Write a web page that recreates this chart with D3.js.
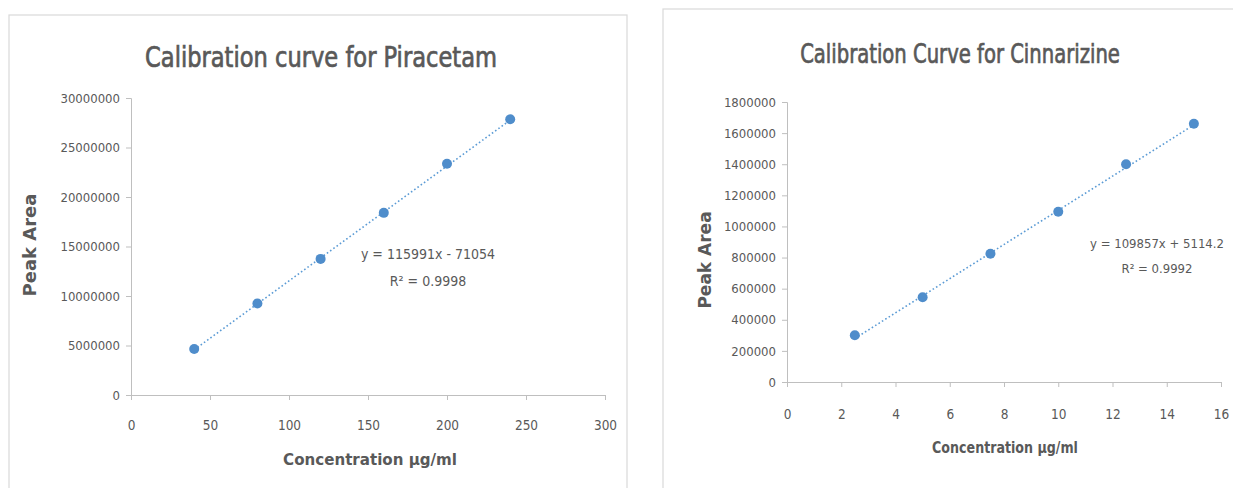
<!DOCTYPE html>
<html>
<head>
<meta charset="utf-8">
<script src="https://cdn.jsdelivr.net/npm/d3@7"></script>
<style>
  body { margin: 0; background: #fff; }
  svg text { font-family: "Liberation Sans Narrow", "DejaVu Sans Condensed", "Liberation Sans", sans-serif; fill: #595959; }
  .axisTitle { font-family: "DejaVu Sans", Verdana, sans-serif !important; font-weight: bold; }
</style>
</head>
<body>
<svg id="chart" width="1233" height="488"></svg>
<script>
// Piracetam
const piraConc = [40, 80, 120, 160, 200, 240];
const piraArea = [4650000, 9250000, 13750000, 18400000, 23350000, 27850000];
const piraXTicks = [0, 50, 100, 150, 200, 250, 300];
const piraYTicks = [0, 5000000, 10000000, 15000000, 20000000, 25000000, 30000000];
const piraFit = [115991, -71054];
const piraEq = ["y = 115991x - 71054", "R² = 0.9998"];

// Cinnarizine
const cinnConc = [2.5, 5, 7.5, 10, 12.5, 15];
const cinnArea = [300000, 545000, 825000, 1095000, 1400000, 1660000];
const cinnXTicks = [0, 2, 4, 6, 8, 10, 12, 14, 16];
const cinnYTicks = [0, 200000, 400000, 600000, 800000, 1000000, 1200000, 1400000, 1600000, 1800000];
const cinnFit = [109857, 5114.2];
const cinnEq = ["y = 109857x + 5114.2", "R² = 0.9992"];

const svg = d3.select("#chart");
const blue = "#5b9bd5";

// squeeze a centred text horizontally so it spans the given width
function fitText(sel, cx, cy, width) {
    let w = sel.node().getComputedTextLength();
    let sx = width / w;
    sel.attr("x", 0).attr("y", 0)
        .attr("transform", "translate(" + cx + "," + cy + ") scale(" + sx + ",1)");
}

function drawChart(cfg) {
    let g = svg.append("g");

    // chart frame
    g.append("rect")
        .attr("x", cfg.frame[0]).attr("y", cfg.frame[1])
        .attr("width", cfg.frame[2]).attr("height", cfg.frame[3])
        .attr("fill", "#fff").attr("stroke", "#d9d9d9").attr("stroke-width", 1.2);

    let x = d3.scaleLinear().domain(d3.extent(cfg.xTicks)).range(cfg.xRange);
    let y = d3.scaleLinear().domain(d3.extent(cfg.yTicks)).range(cfg.yRange);

    // y axis
    let ya = g.append("g")
        .attr("transform", "translate(" + cfg.xRange[0] + ",0)")
        .call(d3.axisLeft(y).tickValues(cfg.yTicks).tickSize(5).tickPadding(cfg.yPad).tickFormat(d3.format("d")));
    ya.selectAll("line").attr("stroke", "#bfbfbf");
    ya.select(".domain").attr("stroke", "#bfbfbf");
    ya.selectAll("text").attr("font-size", cfg.tickSize).attr("fill", "#595959");

    // x axis
    let xa = g.append("g")
        .attr("transform", "translate(0," + cfg.yRange[0] + ")")
        .call(d3.axisBottom(x).tickValues(cfg.xTicks).tickSize(5).tickPadding(cfg.xPad).tickFormat(d3.format("d")));
    xa.selectAll("line").attr("stroke", "#bfbfbf");
    xa.select(".domain").attr("stroke", "#bfbfbf");
    xa.selectAll("text").attr("font-size", cfg.tickSize + 0.5).attr("fill", "#595959");

    // trendline
    let fx = d3.extent(cfg.xs);
    let line = d3.line().x(d => x(d)).y(d => y(cfg.fit[0] * d + cfg.fit[1]));
    g.append("path")
        .attr("d", line(fx))
        .attr("fill", "none")
        .attr("stroke", blue)
        .attr("stroke-width", 1.6)
        .attr("stroke-dasharray", "1.6 2.4");

    // points
    g.selectAll("circle.pt")
        .data(cfg.xs.map((d, i) => [d, cfg.ys[i]]))
        .enter()
        .append("circle")
        .attr("class", "pt")
        .attr("cx", d => x(d[0]))
        .attr("cy", d => y(d[1]))
        .attr("r", 5)
        .attr("fill", "#4f8dcb");

    // title
    let t = g.append("text")
        .attr("text-anchor", "middle")
        .attr("font-size", cfg.title[3])
        .attr("stroke", "#595959")
        .attr("stroke-width", 0.7)
        .text(cfg.title[0]);
    fitText(t, cfg.title[1], cfg.title[2], cfg.title[4]);

    // axis titles
    g.append("text")
        .attr("class", "axisTitle")
        .attr("transform", "translate(" + cfg.yTitle[0] + "," + cfg.yTitle[1] + ") rotate(-90)")
        .attr("text-anchor", "middle")
        .attr("font-size", cfg.yTitle[2])
        .text("Peak Area");

    let xt = g.append("text")
        .attr("text-anchor", "middle")
        .attr("font-size", cfg.xTitle[2])
        .attr("font-weight", "bold")
        .text("Concentration µg/ml");
    fitText(xt, cfg.xTitle[0], cfg.xTitle[1], cfg.xTitle[3]);

    // equation label
    let eq = g.append("text")
        .attr("text-anchor", "middle")
        .attr("font-size", cfg.eqSize);
    eq.append("tspan").attr("x", cfg.eqPos[0]).attr("y", cfg.eqPos[1]).text(cfg.eq[0]);
    eq.append("tspan").attr("x", cfg.eqPos[0]).attr("y", cfg.eqPos[1] + cfg.eqGap).text(cfg.eq[1]);
}

drawChart({
    frame: [9, 15, 618, 490],
    xs: piraConc, ys: piraArea, fit: piraFit, eq: piraEq,
    xTicks: piraXTicks, yTicks: piraYTicks,
    xRange: [131, 605], yRange: [395, 98],
    tickSize: 13, xPad: 20, yPad: 6,
    title: ["Calibration curve for Piracetam", 321, 67, 28, 352],
    yTitle: [36, 245, 18],
    xTitle: [370, 465, 16, 174],
    eqPos: [428, 259], eqSize: 14, eqGap: 27
});

drawChart({
    frame: [663, 9, 580, 500],
    xs: cinnConc, ys: cinnArea, fit: cinnFit, eq: cinnEq,
    xTicks: cinnXTicks, yTicks: cinnYTicks,
    xRange: [787, 1221], yRange: [382, 102],
    tickSize: 13, xPad: 22, yPad: 6,
    title: ["Calibration Curve for Cinnarizine", 960, 63, 27, 320],
    yTitle: [711, 260, 17],
    xTitle: [1005, 453, 15, 146],
    eqPos: [1157, 248], eqSize: 13, eqGap: 25
});
</script>
</body>
</html>
